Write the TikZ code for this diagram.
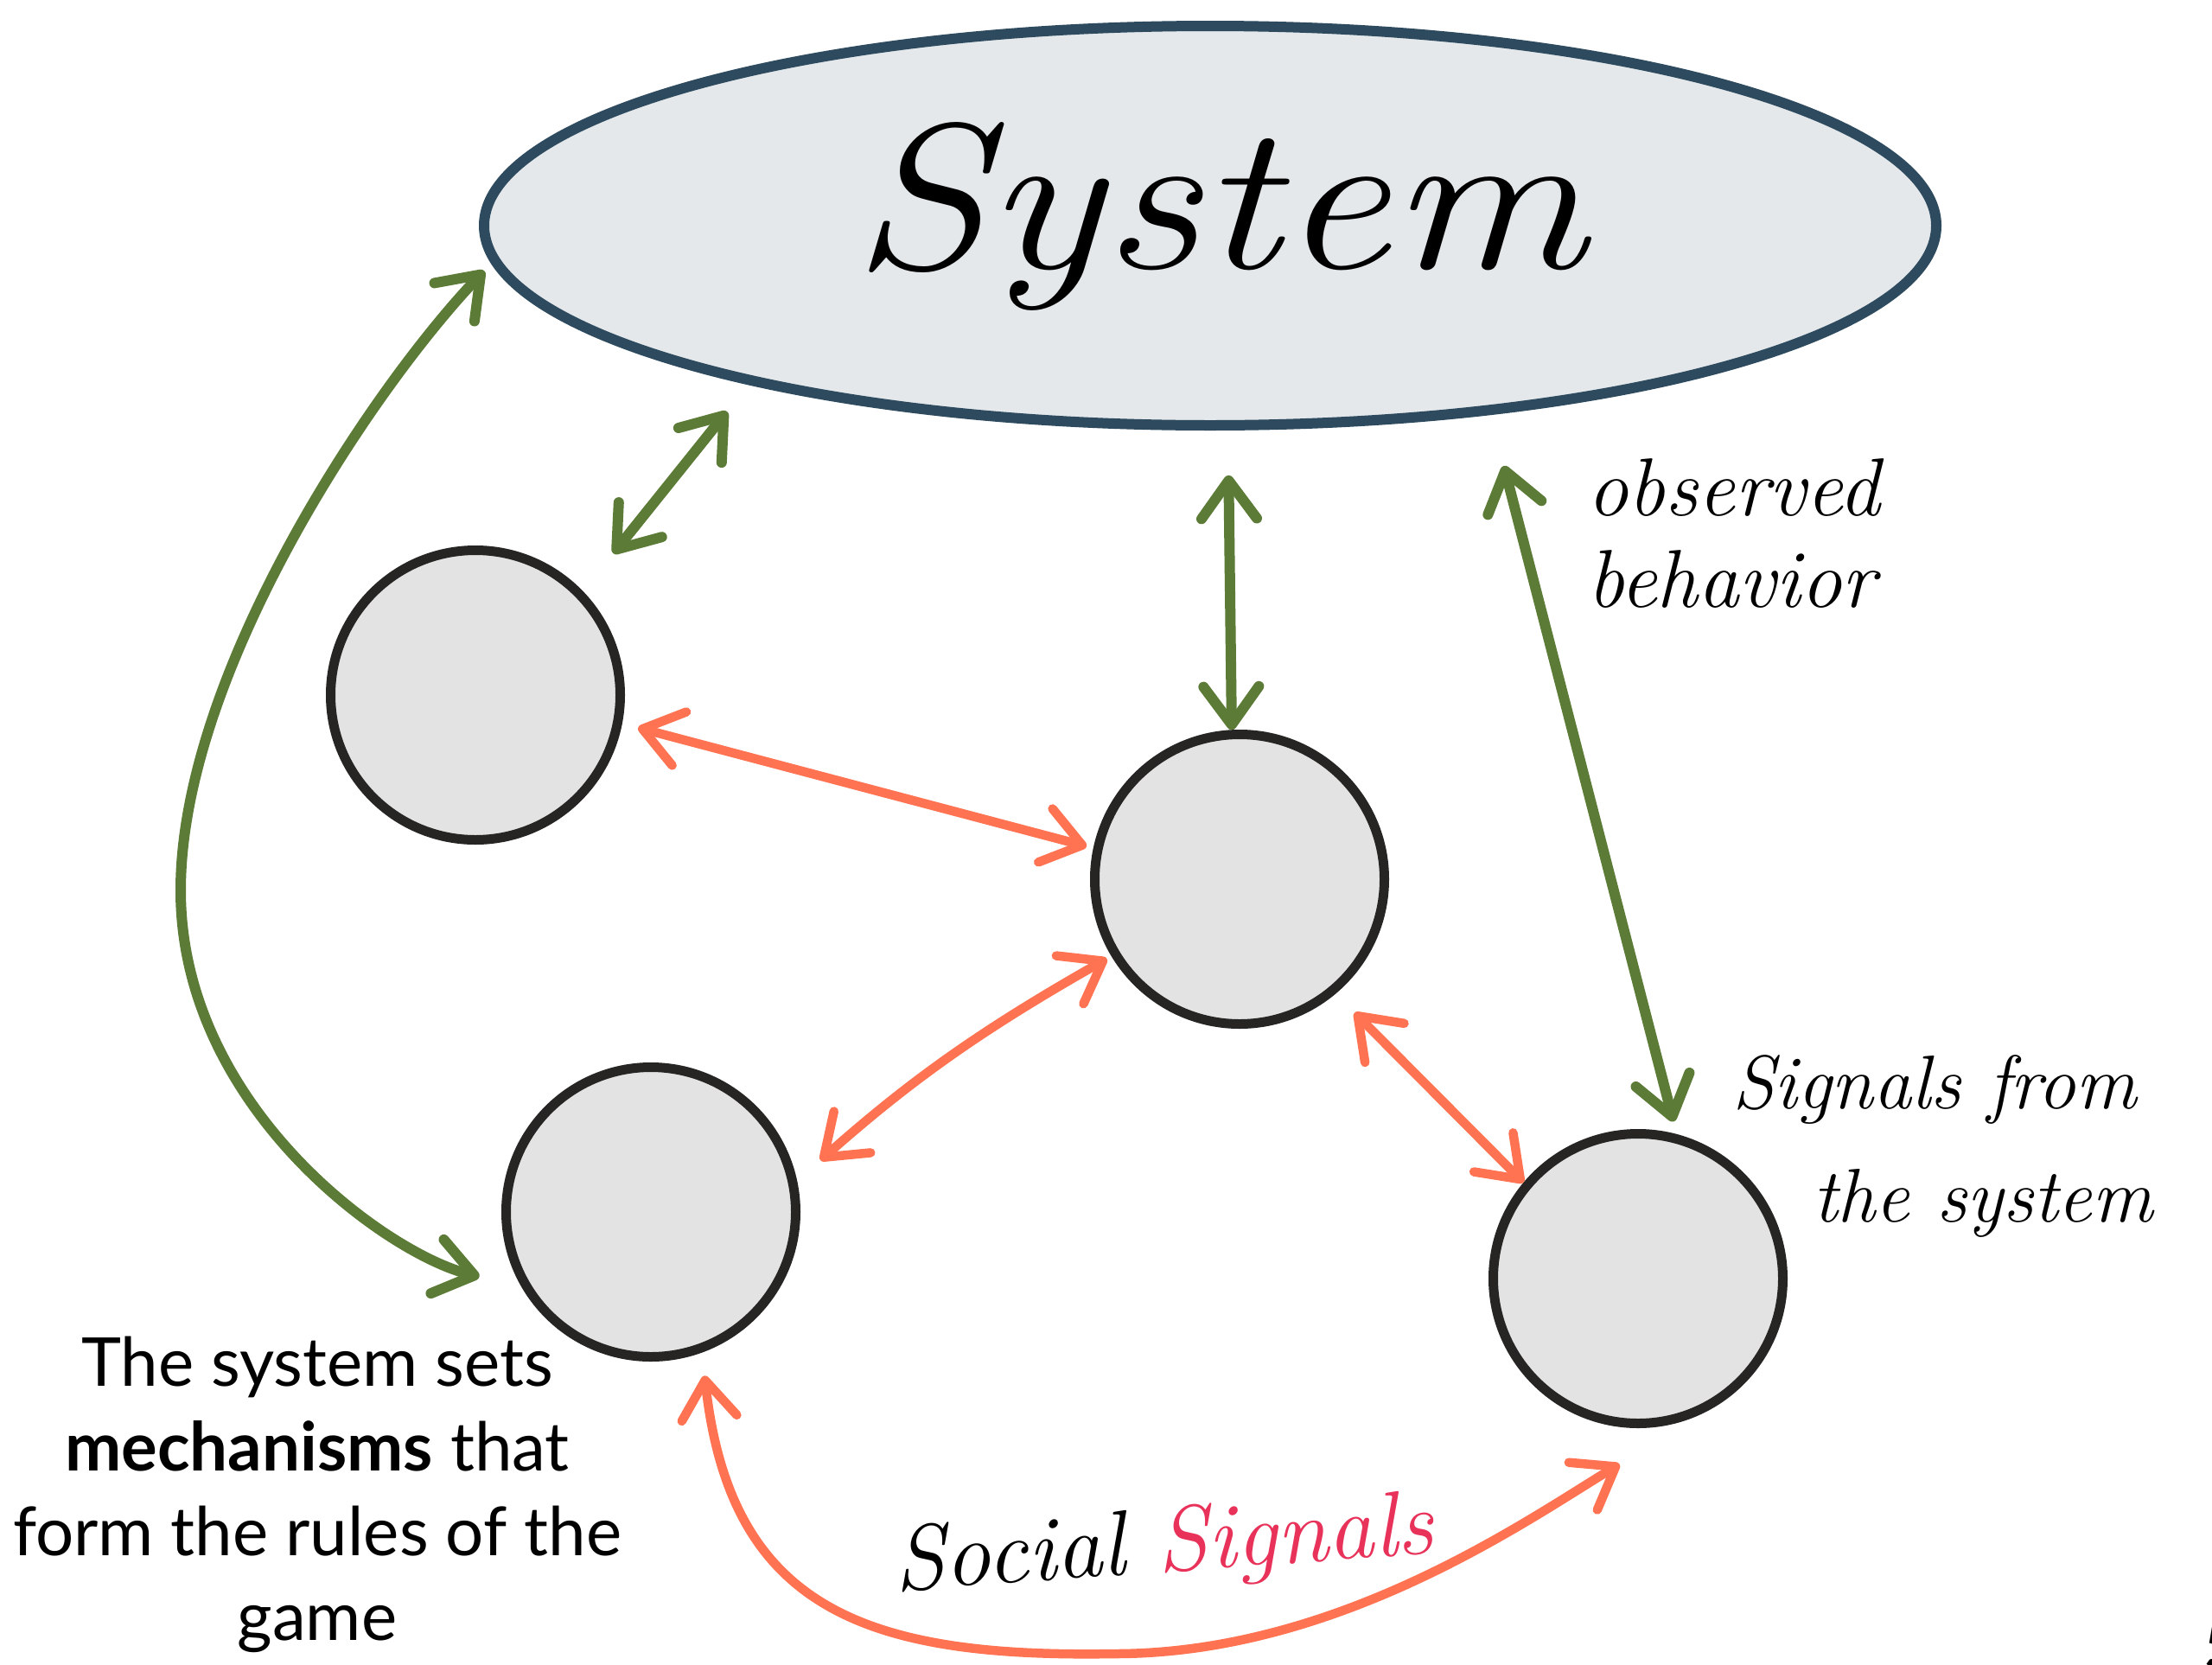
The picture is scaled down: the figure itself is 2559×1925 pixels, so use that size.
\documentclass[tikz,border=0pt]{standalone}
\usepackage{fontspec}
\newfontfamily\gill{Lato}
\usetikzlibrary{shapes.geometric,arrows.meta}
\definecolor{sysfill}{HTML}{E4E8EB}
\definecolor{sysline}{HTML}{2D4A5E}
\definecolor{agentfill}{HTML}{E3E3E3}
\definecolor{agentline}{HTML}{262523}
\definecolor{mechgreen}{HTML}{5B7B36}
\definecolor{socorange}{HTML}{FF7352}
\definecolor{sigred}{HTML}{E8325A}
\begin{document}
\begin{tikzpicture}[x=1pt,y=-1pt,
  >={Straight Barb[length=44pt,width=64pt,round]},
  sysnode/.style={ellipse, draw=sysline, fill=sysfill, line width=12pt,
    minimum width=1680pt, minimum height=462pt, inner sep=0pt},
  agent/.style={circle, draw=agentline, fill=agentfill, line width=11pt,
    minimum size=335pt, inner sep=0pt},
  greenlink/.style={draw=mechgreen, line width=12pt, line cap=round, <->},
  orangelink/.style={draw=socorange, line width=10.5pt, line cap=round, <->},
  hand/.style={inner sep=0pt, text=black}
]
\useasboundingbox (0,0) rectangle (2559,1925);
\fill[white] (0,0) rectangle (2559,1925);

% nodes
\node[sysnode] (sys) at (1400,261) {};
\node[hand, anchor=base, font=\itshape\fontsize{240}{240}\selectfont] (systxt) at (1410,310) {\scalebox{1.18}[1]{System}};

\node[agent] (c1) at (550,804) {};
\node[agent] (c2) at (1434,1017) {};
\node[agent] (c3) at (753,1402) {};
\node[agent] (c4) at (1895,1479) {};

% green connectors (system <-> agents)
\draw[greenlink, shorten <=12pt, shorten >=50pt]
  (sys.183.3) .. controls (430,450) and (209,780) .. (209,1030)
  .. controls (209,1280) and (448,1451) .. (c3.210.2);
\draw[greenlink, shorten <=56pt, shorten >=40pt] (c1.44.5) -- (sys.199.5);
\draw[greenlink, shorten <=52pt] (sys.275.5) -- (c2.93.6);
\draw[greenlink, shorten <=61pt, shorten >=15pt] (sys.-34.1) -- (c4.75.7);

% orange connectors (agent <-> agent)
\draw[orangelink, shorten <=19pt, shorten >=8pt] (c1.-11.7) -- (c2.168);
\draw[orangelink, shorten <=36pt, shorten >=6pt] (c3.12.8) to[bend left=6] (c2.211.2);
\draw[orangelink, shorten <=31pt] (c2.-50.1) -- (c4.140.7);
\draw[orangelink, shorten <=27pt, shorten >=129pt]
  (c3.-70) .. controls (845,1860) and (1000,1918) .. (1289,1913)
  .. controls (1550,1913) and (1770,1756) .. (c4.-59);

% labels
\node[hand, anchor=north west, align=left, font=\itshape\fontsize{95}{106}\selectfont] (obs) at (1836,530) {observed\\behavior};
\node[hand, anchor=north west, align=left, font=\itshape\fontsize{88}{131}\selectfont] (sigsys) at (2004,1220) {Signals from\\\hspace*{93pt}the system};
\node[hand, anchor=base west, rotate=4, font=\itshape\fontsize{107}{107}\selectfont] (soc) at (1036,1840) {Social \textcolor{sigred}{Signals}};

\node[anchor=north, align=center, inner sep=0pt, font=\gill\fontsize{78}{98}\selectfont] (rules) at (367,1546)
  {The system sets\\\textbf{mechanisms} that\\form the rules of the\\game};

\node[anchor=base west, inner sep=0pt, font=\gill\bfseries\fontsize{82}{82}\selectfont] (pagenum) at (2549,1931) {5};
\end{tikzpicture}
\end{document}
